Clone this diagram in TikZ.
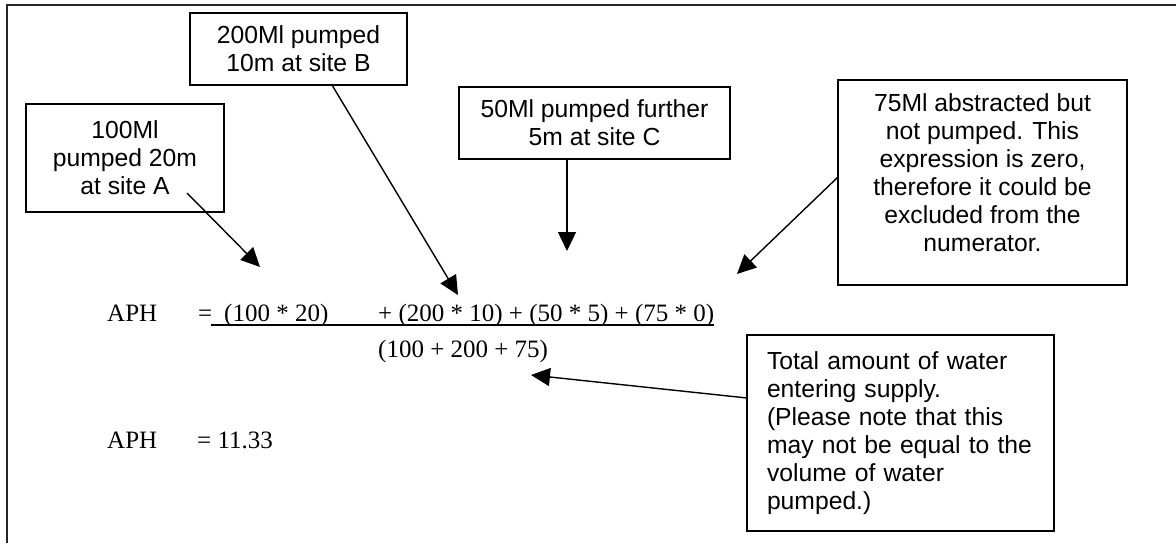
\documentclass[tikz,border=0pt]{standalone}
\usepackage{fontspec}
\setmainfont{Liberation Sans}
\newfontfamily\timesf{Liberation Serif}
\usetikzlibrary{arrows.meta}
\newcommand\boxfont{\fontsize{24.7}{28}\selectfont}
\newcommand\eqfont{\timesf\fontsize{25}{30}\selectfont}
\begin{document}
\begin{tikzpicture}[x=1pt,y=-1pt,
  box/.style={draw, line width=1.6pt, inner sep=0pt, font=\boxfont, align=center},
  arr/.style={-{Triangle[length=19pt,width=18pt]}, line width=1.4pt},
  eq/.style={font=\eqfont, anchor=base west, inner sep=0pt}]
\useasboundingbox (0,0) rectangle (1176,543);
\fill[white] (0,0) rectangle (1176,543);
% outer frame (cropped at right and bottom)
\draw[line width=2pt, black!85] (7,560) -- (7,5) -- (1190,5);

% callout boxes
\node[box, minimum width=198pt, minimum height=108pt] (boxA) at (125,158) {100Ml\\pumped 20m\\at site A};
\node[box, minimum width=217pt, minimum height=72pt] (boxB) at (298.5,49) {200Ml pumped\\10m at site B};
\node[box, minimum width=271pt, minimum height=72pt] (boxC) at (594.5,123) {50Ml pumped further\\5m at site C};
\node[box, minimum width=289pt, minimum height=205pt, text depth=19pt] (boxD) at (982.5,182.5) {75Ml abstracted but\\not pumped. This\\expression is zero,\\therefore it could be\\excluded from the\\numerator.};
\node[box, align=left, text width=267pt, minimum width=307pt, minimum height=196pt] (boxE) at (900.5,433) {Total amount of water\\entering supply.\\(Please note that this\\may not be equal to the\\volume of water\\pumped.)};

% formula
\node[eq] (aph1) at (107,321) {APH};
\node[eq] (eq1) at (198,321) {=};
\node[eq] (t1) at (224,321) {(100 * 20)};
\node[eq] (t2) at (378,321) {+ (200 * 10) + (50 * 5) + (75 * 0)};
\node[eq] (den) at (378,357) {(100 + 200 + 75)};
\coordinate (barL) at (211,325);
\coordinate (barR) at (714,325);
\draw[line width=2pt] (barL) -- (barR);
\node[eq] (aph2) at (107,448) {APH};
\node[eq] (res) at (197,448) {= 11.33};

% arrows
\coordinate (aS) at (187,193);
\coordinate (aT) at (260,267);
\coordinate (bS) at (332,85);
\coordinate (bT) at (458,295);
\coordinate (cS) at (567,159);
\coordinate (cT) at (567,251);
\coordinate (dS) at (838,177);
\coordinate (dT) at (737,274);
\coordinate (eS) at (747,398);
\coordinate (eT) at (531,375);
\draw[arr] (aS) -- (aT);
\draw[arr] (bS) -- (bT);
\draw[arr] (cS) -- (cT);
\draw[arr] (dS) -- (dT);
\draw[arr] (eS) -- (eT);
\end{tikzpicture}
\end{document}
